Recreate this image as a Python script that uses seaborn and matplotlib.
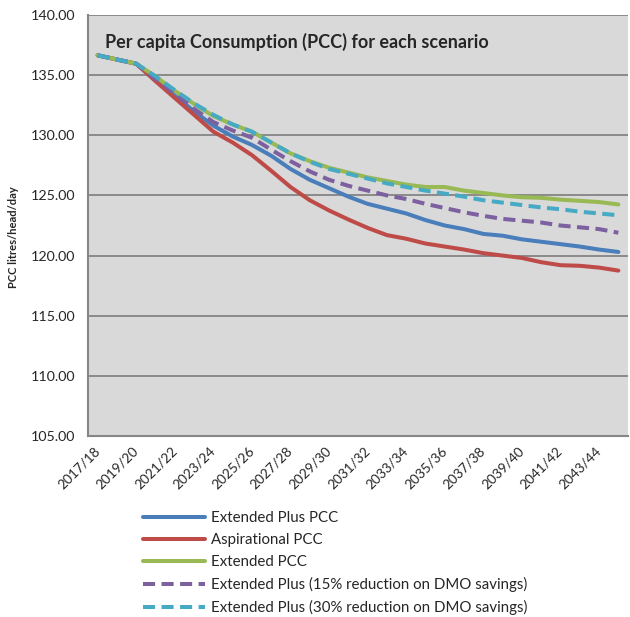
import numpy as np
import pandas as pd
import seaborn as sns
import matplotlib
matplotlib.use("Agg")
import matplotlib.pyplot as plt

sns.set_style("white")
plt.rcParams['font.family'] = ['Lato', 'DejaVu Sans']

years = ['2017/18', '2018/19', '2019/20', '2020/21', '2021/22', '2022/23', '2023/24',
         '2024/25', '2025/26', '2026/27', '2027/28', '2028/29', '2029/30', '2030/31',
         '2031/32', '2032/33', '2033/34', '2034/35', '2035/36', '2036/37', '2037/38',
         '2038/39', '2039/40', '2040/41', '2041/42', '2042/43', '2043/44', '2044/45']

extended_plus = [136.65, 136.3, 135.95, 134.6, 133.3, 132.0, 130.8, 129.9, 129.2, 128.3,
                 127.2, 126.3, 125.6, 124.9, 124.3, 123.9, 123.5, 122.95, 122.5, 122.2,
                 121.8, 121.65, 121.35, 121.15, 120.95, 120.75, 120.5, 120.3]
aspirational = [136.65, 136.3, 135.95, 134.5, 133.1, 131.7, 130.3, 129.4, 128.35, 127.05,
                125.7, 124.6, 123.75, 123.0, 122.3, 121.7, 121.4, 121.0, 120.75, 120.5,
                120.2, 120.0, 119.8, 119.45, 119.2, 119.15, 119.0, 118.75]
extended = [136.65, 136.3, 135.95, 134.9, 133.7, 132.6, 131.6, 130.9, 130.3, 129.4,
            128.5, 127.85, 127.3, 126.9, 126.5, 126.2, 125.9, 125.7, 125.7, 125.4,
            125.2, 125.0, 124.85, 124.8, 124.65, 124.55, 124.45, 124.25]
plus_15 = [136.65, 136.3, 135.95, 134.7, 133.45, 132.2, 131.1, 130.4, 129.8, 128.8,
           127.85, 127.0, 126.3, 125.8, 125.4, 125.0, 124.7, 124.3, 123.95, 123.6,
           123.3, 123.05, 122.9, 122.75, 122.5, 122.35, 122.2, 121.9]
plus_30 = [136.65, 136.3, 135.95, 134.9, 133.75, 132.65, 131.7, 130.9, 130.3, 129.4,
           128.5, 127.8, 127.2, 126.8, 126.4, 126.0, 125.7, 125.4, 125.15, 124.9,
           124.6, 124.4, 124.2, 124.0, 123.85, 123.65, 123.5, 123.35]

names = ['Extended Plus PCC', 'Aspirational PCC', 'Extended PCC',
         'Extended Plus (15% reduction on DMO savings)',
         'Extended Plus (30% reduction on DMO savings)']
series = [extended_plus, aspirational, extended, plus_15, plus_30]
colors = ['#4A7EBB', '#BE4B48', '#98B954', '#7D60A0', '#46AAC5']
dash = ['', '', '', (3, 1.6), (3, 1.6)]

df = pd.concat([pd.DataFrame({'idx': np.arange(len(years)), 'PCC': s, 'scenario': n})
                for n, s in zip(names, series)])

fig = plt.figure(figsize=(6.3, 6.17), dpi=100)
ax = fig.add_axes([88 / 630, 1 - 436 / 617, 540 / 630, 421 / 617])
ax.set_facecolor('#D9D9D9')

sns.lineplot(data=df, x='idx', y='PCC', hue='scenario', style='scenario',
             hue_order=names, style_order=names,
             palette=dict(zip(names, colors)), dashes=dict(zip(names, dash)),
             linewidth=2.9, ax=ax, legend=True)

ax.set_ylim(105, 140)
ax.set_xlim(-0.5, len(years) - 0.5)
ax.set_yticks(np.arange(105, 141, 5))
ax.set_yticklabels(['%.2f' % v for v in np.arange(105, 141, 5)], fontsize=10.3)
ax.yaxis.grid(True, color='#8A8A8A', linewidth=1.4)
ax.set_axisbelow(True)

# tick marks between categories, labels on every other category
ax.set_xticks(np.arange(-0.5, len(years), 1))
ax.set_xticklabels([])
ax.set_xticks(np.arange(0, len(years), 2), minor=True)
ax.set_xticklabels(years[::2], minor=True, rotation=45, ha='right', va='center',
                   rotation_mode='anchor', fontsize=9.8)
ax.tick_params(axis='x', which='major', length=4, color='#868686', width=1.2, direction='out')
ax.tick_params(axis='x', which='minor', length=0, pad=9)
ax.tick_params(axis='y', length=5, color='#868686', width=1.2, direction='out', pad=4)

for side in ['top', 'right']:
    ax.spines[side].set_visible(False)
for side in ['left', 'bottom']:
    ax.spines[side].set_color('#868686')
    ax.spines[side].set_linewidth(1.5)

ax.set_xlabel('')
ax.set_ylabel('')
ax.text(0.031, 0.935, 'Per capita Consumption (PCC) for each scenario',
        transform=ax.transAxes, fontsize=13, fontweight='bold', va='center')
fig.text(14 / 630, 1 - 237 / 617, 'PCC litres/head/day', rotation=90,
         fontsize=8, fontweight='bold', ha='center', va='center')

handles, labels = ax.get_legend_handles_labels()
ax.get_legend().remove()
fig.legend(handles, labels, loc='upper left', bbox_to_anchor=(143 / 630, 1 - 511 / 617),
           frameon=False, fontsize=10.8, handlelength=4.1, handletextpad=0.45,
           labelspacing=0.53, borderpad=0, borderaxespad=0)

fig.savefig('out.png', dpi=100)
